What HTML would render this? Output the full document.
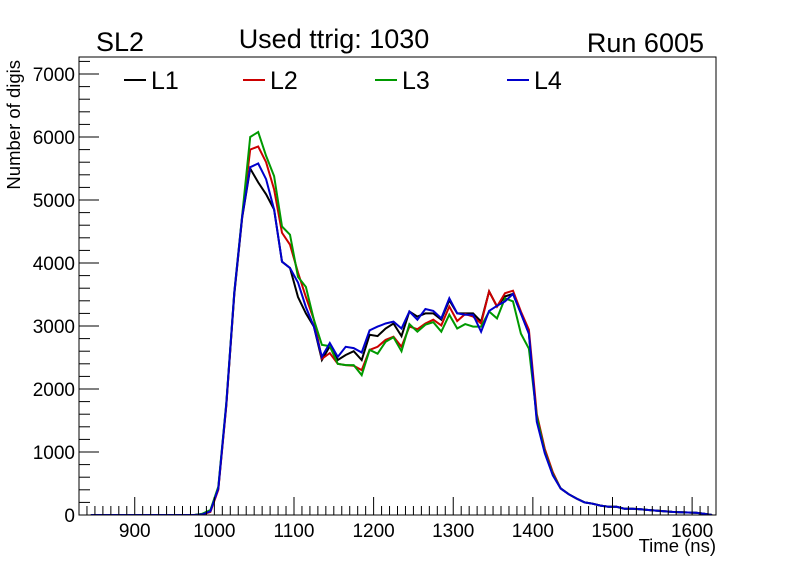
<!DOCTYPE html>
<html><head><meta charset="utf-8"><style>
body{margin:0;background:#fff;}
svg text{font-family:"Liberation Sans",Arial,sans-serif;}
</style></head><body>
<svg width="796" height="572" xmlns="http://www.w3.org/2000/svg">
<rect width="796" height="572" fill="#fff"/>
<g id="plot"></g>
<g id="axes"></g>
<text x="96" y="51" font-size="27">SL2</text>
<text x="334" y="48" font-size="27" text-anchor="middle">Used ttrig: 1030</text>
<text x="704" y="52" font-size="27" text-anchor="end">Run 6005</text>
<text x="716" y="552" font-size="18.5" text-anchor="end">Time (ns)</text>
<text transform="translate(20,60) rotate(-90)" font-size="18.5" text-anchor="end">Number of digis</text>
<g id="legend"></g>
</svg>
<script>
const times=[845,855,865,875,885,895,905,915,925,935,945,955,965,975,985,995,1005,1015,1025,1035,1045,1055,1065,1075,1085,1095,1105,1115,1125,1135,1145,1155,1165,1175,1185,1195,1205,1215,1225,1235,1245,1255,1265,1275,1285,1295,1305,1315,1325,1335,1345,1355,1365,1375,1385,1395,1405,1415,1425,1435,1445,1455,1465,1475,1485,1495,1505,1515,1525,1535,1545,1555,1565,1575,1585,1595,1605,1615,1625];
const tail=[420,330,260,200,180,150,130,130,100,100,90,80,70,60,50,45,40,35,20,0];
const l1=[0,0,0,0,0,0,0,0,0,0,0,0,0,0,10,60,420,1750,3500,4720,5500,5280,5090,4850,4020,3920,3460,3200,2990,2460,2680,2460,2540,2600,2460,2860,2840,2960,3040,2840,3230,3150,3200,3200,3100,3410,3200,3200,3200,3070,3550,3310,3470,3510,3200,2880,1520,1000,640,...tail];
const l2=[0,0,0,0,0,0,0,0,0,0,0,0,0,0,10,50,400,1730,3520,4740,5800,5850,5600,5170,4480,4290,3850,3460,3100,2480,2570,2400,2380,2370,2300,2620,2670,2780,2830,2670,2990,2950,3040,3100,3010,3310,3080,3190,3150,3040,3550,3310,3520,3560,3230,2940,1600,1050,680,...tail];
const l3=[0,0,0,0,0,0,0,0,0,0,0,0,0,0,20,80,450,1780,3540,4760,6000,6080,5700,5380,4580,4450,3780,3620,3100,2700,2680,2400,2380,2380,2220,2620,2560,2750,2820,2600,3030,2910,3020,3060,2910,3180,2960,3030,2990,2990,3230,3120,3440,3390,2880,2640,1560,1000,650,...tail];
const l4=[0,0,0,0,0,0,0,0,0,0,0,0,0,0,10,60,420,1760,3530,4740,5520,5580,5330,4850,4020,3920,3690,3300,2990,2510,2730,2510,2670,2650,2580,2930,2990,3040,3070,2960,3230,3100,3270,3240,3120,3440,3200,3180,3180,2910,3240,3320,3390,3510,3200,2880,1480,980,630,...tail];
const seriesNames=["L1","L2","L3","L4"];
const seriesColors=["#000000","#cc0000","#009900","#0000cc"];
const xTicks=[900,1000,1100,1200,1300,1400,1500,1600];
const yTicks=[0,1000,2000,3000,4000,5000,6000,7000];
const X0=79,X1=716,Y0=515,YT=57,XMIN=830,XMAX=1630,YMAX=7270;
const sx=t=>X0+(t-XMIN)/(XMAX-XMIN)*(X1-X0);
const sy=v=>Y0-v/YMAX*(Y0-YT);
const NS="http://www.w3.org/2000/svg";
function mk(tag,attrs,parent){const e=document.createElementNS(NS,tag);for(const k in attrs)e.setAttribute(k,attrs[k]);parent.appendChild(e);return e;}
const plot=document.getElementById('plot'),axes=document.getElementById('axes'),legend=document.getElementById('legend');
[l1,l2,l3,l4].forEach((d,i)=>{
  const pts=d.map((v,j)=>sx(times[j]).toFixed(1)+","+sy(v).toFixed(1)).join(" ");
  const p=mk('polyline',{points:pts,fill:'none',stroke:seriesColors[i],'stroke-width':2,'clip-path':'url(#clip)'},plot);
  
  
});
const defs=mk('defs',{},document.querySelector('svg'));
const cp=mk('clipPath',{id:'clip'},defs);
mk('rect',{x:X0,y:YT,width:X1-X0,height:Y0-YT},cp);
const frame=mk('rect',{x:X0,y:YT,width:X1-X0,height:Y0-YT,fill:'none',stroke:'#000','stroke-width':1},axes);


for(let t=840;t<=1620;t+=10){
  const major=t%100===0;
  const tk=mk('line',{x1:sx(t),x2:sx(t),y1:Y0,y2:Y0-(major?18:9),stroke:'#000','stroke-width':1},axes);
  
  
}
xTicks.forEach(t=>{
  const tx=mk('text',{x:sx(t),y:Y0+22,'font-size':19,'text-anchor':'middle'},axes);
  tx.textContent=t;
  
  
});
for(let v=0;v<=7200;v+=200){
  const major=v%1000===0;
  const tk=mk('line',{x1:X0,x2:X0+(major?20:11),y1:sy(v),y2:sy(v),stroke:'#000','stroke-width':1},axes);
  
  
}
yTicks.forEach(v=>{
  const tx=mk('text',{x:X0-4,y:sy(v)+7,'font-size':19,'text-anchor':'end'},axes);
  tx.textContent=v;
  
  
});
const legX=[124,243,375,507];
seriesNames.forEach((n,i)=>{
  const g=mk('g',{},legend);
  
  
  mk('line',{x1:legX[i],x2:legX[i]+22,y1:80,y2:80,stroke:seriesColors[i],'stroke-width':2},g);
  const t=mk('text',{x:legX[i]+27,y:89,'font-size':25},g);
  t.textContent=n;
});
</script>
</body></html>
